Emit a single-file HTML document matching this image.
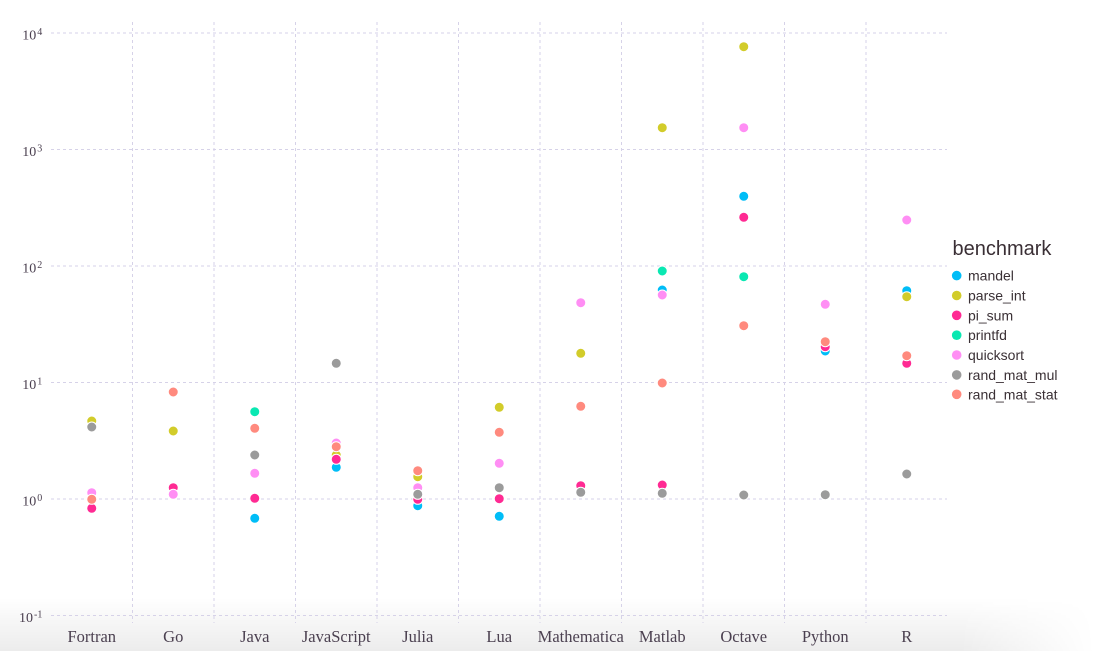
<!DOCTYPE html>
<html><head><meta charset="utf-8"><style>
html,body{margin:0;padding:0;background:#fff;}
#wrap{position:relative;width:1095px;height:651px;overflow:hidden;background:#fff;}
#shade{position:absolute;left:0;top:598px;width:1095px;height:53px;
background:linear-gradient(to bottom,rgba(0,0,0,0) 0%,rgba(0,0,0,0.03) 40%,rgba(0,0,0,0.075) 100%);
-webkit-mask-image:linear-gradient(to right,#000 0,#000 960px,rgba(0,0,0,0) 1095px);
mask-image:linear-gradient(to right,#000 0,#000 960px,rgba(0,0,0,0) 1095px);}
svg{position:absolute;left:0;top:0;}
.yl{font-family:"Liberation Serif",serif;fill:#4b4050;}
.xl{font-family:"Liberation Serif",serif;font-size:16.5px;fill:#4b4050;}
.lg{font-family:"Liberation Sans",sans-serif;font-size:14px;fill:#3a3035;}
</style></head><body><div id="wrap"><div id="shade"></div>
<svg width="1095" height="651" viewBox="0 0 1095 651">
<g stroke="#d6d2e8" stroke-width="1" stroke-dasharray="3,3" fill="none">
<line x1="51" y1="33" x2="947" y2="33"/>
<line x1="51" y1="149.5" x2="947" y2="149.5"/>
<line x1="51" y1="266" x2="947" y2="266"/>
<line x1="51" y1="382.5" x2="947" y2="382.5"/>
<line x1="51" y1="499" x2="947" y2="499"/>
<line x1="51" y1="615.5" x2="947" y2="615.5"/>
<line x1="132.5" y1="22" x2="132.5" y2="623"/>
<line x1="214" y1="22" x2="214" y2="623"/>
<line x1="295.5" y1="22" x2="295.5" y2="623"/>
<line x1="377" y1="22" x2="377" y2="623"/>
<line x1="458.5" y1="22" x2="458.5" y2="623"/>
<line x1="540" y1="22" x2="540" y2="623"/>
<line x1="621.5" y1="22" x2="621.5" y2="623"/>
<line x1="703" y1="22" x2="703" y2="623"/>
<line x1="784.5" y1="22" x2="784.5" y2="623"/>
<line x1="866" y1="22" x2="866" y2="623"/>
</g>
<g class="yl">
<text x="22.3" y="39.5" font-size="14">10</text><text x="37.3" y="35" font-size="10">4</text>
<text x="22.3" y="156" font-size="14">10</text><text x="37.3" y="151.5" font-size="10">3</text>
<text x="22.3" y="272.5" font-size="14">10</text><text x="37.3" y="268" font-size="10">2</text>
<text x="22.3" y="389" font-size="14">10</text><text x="37.3" y="384.5" font-size="10">1</text>
<text x="22.3" y="505.5" font-size="14">10</text><text x="37.3" y="501" font-size="10">0</text>
<text x="19" y="622" font-size="14">10</text><text x="34" y="617.5" font-size="10">-1</text>
</g>
<g class="xl" text-anchor="middle">
<text x="91.75" y="642">Fortran</text>
<text x="173.25" y="642">Go</text>
<text x="254.75" y="642">Java</text>
<text x="336.25" y="642">JavaScript</text>
<text x="417.75" y="642">Julia</text>
<text x="499.25" y="642">Lua</text>
<text x="580.75" y="642">Mathematica</text>
<text x="662.25" y="642">Matlab</text>
<text x="743.75" y="642">Octave</text>
<text x="825.25" y="642">Python</text>
<text x="906.75" y="642">R</text>
</g>
<g stroke="#fff" stroke-width="1">
<g fill="#00bdf7">
<circle cx="91.75" cy="499" r="5"/>
<circle cx="254.75" cy="518.3" r="5"/>
<circle cx="336.25" cy="467.3" r="5"/>
<circle cx="417.75" cy="505.7" r="5"/>
<circle cx="499.25" cy="516.3" r="5"/>
<circle cx="662.25" cy="290" r="5"/>
<circle cx="743.75" cy="196.3" r="5"/>
<circle cx="825.25" cy="351" r="5"/>
<circle cx="906.75" cy="290.7" r="5"/>
</g>
<g fill="#d2cc2a">
<circle cx="91.75" cy="421" r="5"/>
<circle cx="173.25" cy="431" r="5"/>
<circle cx="336.25" cy="455" r="5"/>
<circle cx="417.75" cy="476.7" r="5"/>
<circle cx="499.25" cy="407.3" r="5"/>
<circle cx="580.75" cy="353.3" r="5"/>
<circle cx="662.25" cy="127.7" r="5"/>
<circle cx="743.75" cy="46.7" r="5"/>
<circle cx="906.75" cy="296.7" r="5"/>
</g>
<g fill="#ff2a93">
<circle cx="91.75" cy="508.3" r="5"/>
<circle cx="173.25" cy="487.7" r="5"/>
<circle cx="254.75" cy="498.3" r="5"/>
<circle cx="336.25" cy="459.3" r="5"/>
<circle cx="417.75" cy="499.3" r="5"/>
<circle cx="499.25" cy="498.7" r="5"/>
<circle cx="580.75" cy="485.7" r="5"/>
<circle cx="662.25" cy="485" r="5"/>
<circle cx="743.75" cy="217.3" r="5"/>
<circle cx="825.25" cy="346.7" r="5"/>
<circle cx="906.75" cy="363.3" r="5"/>
</g>
<g fill="#0ae8b2">
<circle cx="254.75" cy="411.7" r="5"/>
<circle cx="662.25" cy="271" r="5"/>
<circle cx="743.75" cy="276.7" r="5"/>
</g>
<g fill="#ff8ef4">
<circle cx="91.75" cy="492.7" r="5"/>
<circle cx="173.25" cy="494.3" r="5"/>
<circle cx="254.75" cy="473.3" r="5"/>
<circle cx="336.25" cy="443" r="5"/>
<circle cx="417.75" cy="487.7" r="5"/>
<circle cx="499.25" cy="463.3" r="5"/>
<circle cx="580.75" cy="302.7" r="5"/>
<circle cx="662.25" cy="295" r="5"/>
<circle cx="743.75" cy="127.7" r="5"/>
<circle cx="825.25" cy="304.3" r="5"/>
<circle cx="906.75" cy="220" r="5"/>
</g>
<g fill="#9b9b9b">
<circle cx="91.75" cy="427" r="5"/>
<circle cx="254.75" cy="455" r="5"/>
<circle cx="336.25" cy="363.3" r="5"/>
<circle cx="417.75" cy="494.3" r="5"/>
<circle cx="499.25" cy="487.7" r="5"/>
<circle cx="580.75" cy="492.3" r="5"/>
<circle cx="662.25" cy="493.3" r="5"/>
<circle cx="743.75" cy="495" r="5"/>
<circle cx="825.25" cy="494.7" r="5"/>
<circle cx="906.75" cy="474" r="5"/>
</g>
<g fill="#ff8a7e">
<circle cx="91.75" cy="499.3" r="5"/>
<circle cx="173.25" cy="392" r="5"/>
<circle cx="254.75" cy="428.3" r="5"/>
<circle cx="336.25" cy="446.7" r="5"/>
<circle cx="417.75" cy="470.7" r="5"/>
<circle cx="499.25" cy="432.3" r="5"/>
<circle cx="580.75" cy="406.3" r="5"/>
<circle cx="662.25" cy="383" r="5"/>
<circle cx="743.75" cy="325.7" r="5"/>
<circle cx="825.25" cy="341.7" r="5"/>
<circle cx="906.75" cy="355.7" r="5"/>
</g>
</g>
<text x="952.5" y="255" font-family="Liberation Sans, sans-serif" font-size="20" fill="#3a2f35">benchmark</text>
<g>
<circle cx="956.7" cy="275.6" r="4.8" fill="#00bdf7"/>
<circle cx="956.7" cy="295.5" r="4.8" fill="#d2cc2a"/>
<circle cx="956.7" cy="315.3" r="4.8" fill="#ff2a93"/>
<circle cx="956.7" cy="335.2" r="4.8" fill="#0ae8b2"/>
<circle cx="956.7" cy="355" r="4.8" fill="#ff8ef4"/>
<circle cx="956.7" cy="374.9" r="4.8" fill="#9b9b9b"/>
<circle cx="956.7" cy="394.3" r="4.8" fill="#ff8a7e"/>
</g>
<g class="lg">
<text x="968" y="280.6">mandel</text>
<text x="968" y="300.5">parse_int</text>
<text x="968" y="320.3">pi_sum</text>
<text x="968" y="340.2">printfd</text>
<text x="968" y="360">quicksort</text>
<text x="968" y="379.9">rand_mat_mul</text>
<text x="968" y="399.3">rand_mat_stat</text>
</g>
</svg></div></body></html>
